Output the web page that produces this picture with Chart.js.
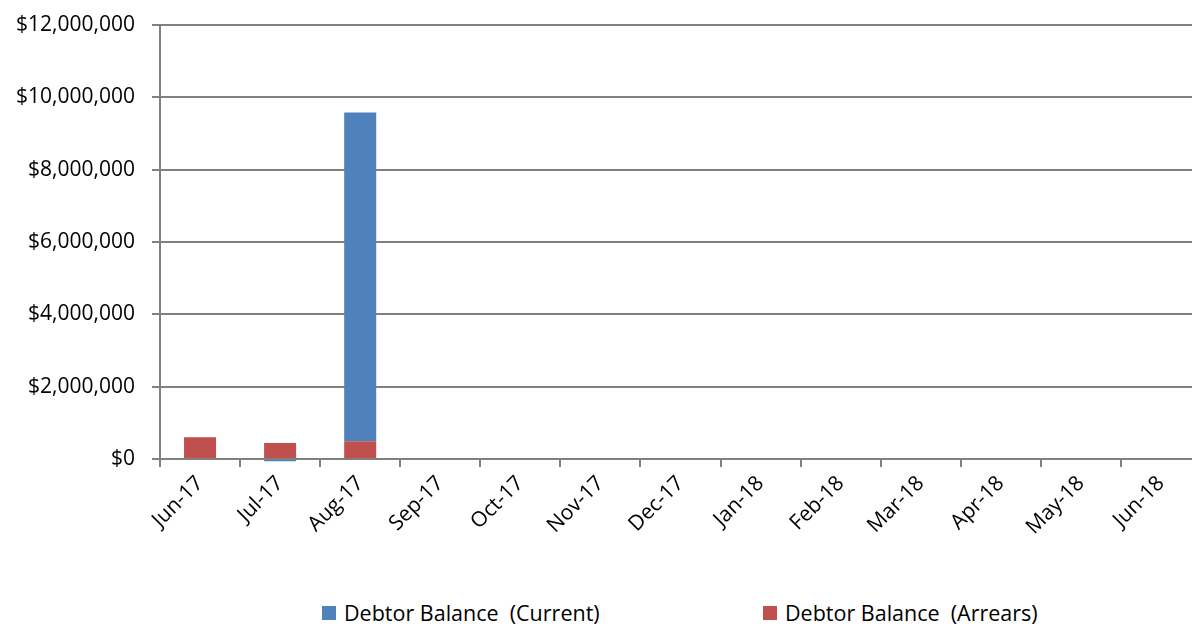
<!DOCTYPE html>
<html lang="en">
<head>
  <meta charset="UTF-8">
  <title>Debtor Balance</title>
  <script src="https://cdn.jsdelivr.net/npm/chart.js"></script>
  <style>
    html, body { margin: 0; padding: 0; background: #fff; overflow: hidden; }
    #wrap { position: relative; width: 1212px; height: 580px; }
    #legend {
      position: absolute; top: 598px; left: 0; width: 1192px;
      font-family: "Open Sans", sans-serif; font-size: 21.5px; color: #000;
    }
    .item { position: absolute; top: 0; display: flex; align-items: center; white-space: nowrap; }
    .box { width: 14px; height: 14px; margin-right: 8px; }
  </style>
</head>
<body>
  <div id="wrap"><canvas id="chart"></canvas></div>
  <div id="legend">
    <div class="item" style="left:322px"><span class="box" style="background:#4F81BD"></span>Debtor Balance &nbsp;(Current)</div>
    <div class="item" style="left:763px"><span class="box" style="background:#C0504D"></span>Debtor Balance &nbsp;(Arrears)</div>
  </div>

  <script>
    const months = ["Jun-17", "Jul-17", "Aug-17", "Sep-17", "Oct-17", "Nov-17", "Dec-17",
                    "Jan-18", "Feb-18", "Mar-18", "Apr-18", "May-18", "Jun-18"];
    const currentBalance = [0, -60000, 9090000, 0, 0, 0, 0, 0, 0, 0, 0, 0, 0];
    const arrearsBalance = [600000, 440000, 490000, 0, 0, 0, 0, 0, 0, 0, 0, 0, 0];

    const gridColor = "#808080";
    const font = { family: "Open Sans", size: 21 };

    new Chart(document.getElementById("chart"), {
      type: "bar",
      data: {
        labels: months,
        datasets: [
          { label: "Debtor Balance (Arrears)", data: arrearsBalance, backgroundColor: "#C0504D",
            barPercentage: 0.4, categoryPercentage: 1 },
          { label: "Debtor Balance (Current)", data: currentBalance, backgroundColor: "#4F81BD",
            barPercentage: 0.4, categoryPercentage: 1, clip: false }
        ]
      },
      options: {
        responsive: true,
        maintainAspectRatio: false,
        animation: false,
        layout: { padding: { top: 25, right: 11, left: 0, bottom: 0 } },
        plugins: { legend: { display: false }, tooltip: { enabled: false } },
        scales: {
          x: {
            stacked: true,
            afterFit: s => { s.height = 121; },
            grid: { drawOnChartArea: false, drawTicks: true, tickLength: 8, color: gridColor, lineWidth: 2 },
            border: { color: gridColor, width: 2 },
            ticks: { color: "#000", font: font, minRotation: 45, maxRotation: 45, padding: 4 }
          },
          y: {
            stacked: true,
            min: 0,
            max: 12000000,
            afterFit: s => { s.width = 160; s.paddingTop = 0; s.paddingBottom = 0; },
            grid: { color: gridColor, lineWidth: 2, tickLength: 8 },
            border: { color: gridColor, width: 2 },
            ticks: {
              stepSize: 2000000,
              color: "#000",
              font: font,
              padding: 17,
              callback: v => "$" + v.toLocaleString("en-US")
            }
          }
        }
      }
    });
  </script>
</body>
</html>
